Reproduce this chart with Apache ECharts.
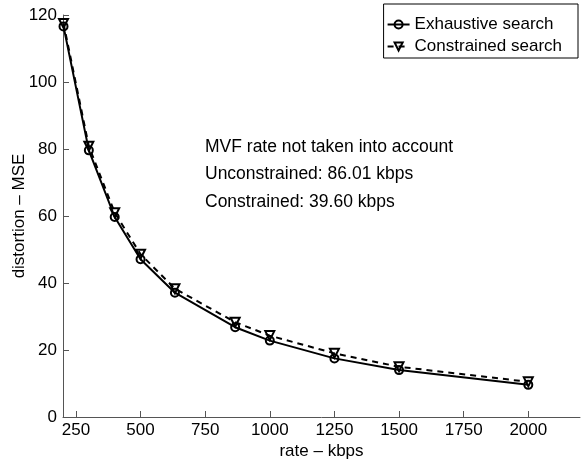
<!DOCTYPE html>
<html>
<head>
<meta charset="utf-8">
<script src="https://cdn.jsdelivr.net/npm/echarts@6/dist/echarts.min.js"></script>
<style>
html,body{margin:0;padding:0;background:#fff;}
#chart{width:586px;height:465px;}
</style>
</head>
<body>
<div id="chart"></div>
<script>
var rates = [202, 300, 400, 500, 633, 866, 1000, 1250, 1500, 2000];
var exhaustive = [116.6, 79.6, 59.7, 47.1, 37.1, 26.8, 22.8, 17.5, 14.0, 9.6];
var constrained = [117.5, 80.8, 61.0, 48.6, 38.3, 28.3, 24.3, 19.0, 15.0, 10.5];
var xTicks = [250, 500, 750, 1000, 1250, 1500, 1750, 2000];
var yTicks = [0, 20, 40, 60, 80, 100, 120];
var notes = ['MVF rate not taken into account', 'Unconstrained: 86.01 kbps', 'Constrained: 39.60 kbps'];

var FONT = 'Liberation Sans, Arial, sans-serif';
var FS = 17;

function pairs(xs, ys) { return xs.map(function (x, i) { return [x, ys[i]]; }); }

var chart = echarts.init(document.getElementById('chart'), null, {renderer: 'canvas'});
chart.setOption({
  animation: false,
  backgroundColor: '#fff',
  textStyle: {fontFamily: FONT},
  grid: {left: 63, right: 6, top: 15, bottom: 48, containLabel: false, outerBoundsMode: 'none'},
  xAxis: {
    type: 'value', min: 200, max: 2200,
    name: 'rate – kbps', nameLocation: 'middle', nameGap: 26, nameMoveOverlap: false,
    nameTextStyle: {fontFamily: FONT, fontSize: FS, color: '#000'},
    axisLine: {show: true, lineStyle: {color: '#555', width: 1}},
    axisTick: {show: true, inside: true, length: 6, customValues: xTicks, lineStyle: {color: '#555'}},
    axisLabel: {customValues: xTicks, fontFamily: FONT, fontSize: FS, color: '#000', margin: 5,
      formatter: function (v) { return String(v); }},
    splitLine: {show: false}
  },
  yAxis: {
    type: 'value', min: 0, max: 120,
    name: 'distortion – MSE', nameLocation: 'middle', nameGap: 35, nameMoveOverlap: false,
    nameTextStyle: {fontFamily: FONT, fontSize: FS, color: '#000'},
    axisLine: {show: true, lineStyle: {color: '#555', width: 1}},
    axisTick: {show: true, inside: true, length: 6, customValues: yTicks, lineStyle: {color: '#555'}},
    axisLabel: {customValues: yTicks, fontFamily: FONT, fontSize: FS, color: '#000', margin: 6,
      formatter: function (v) { return String(v); }},
    splitLine: {show: false}
  },
  legend: {
    right: 8, top: 4, orient: 'vertical',
    backgroundColor: '#fff', borderColor: '#000', borderWidth: 1,
    padding: [12, 16, 3, 3], itemGap: 5, itemWidth: 22, itemHeight: 10,
    textStyle: {fontFamily: FONT, fontSize: FS, color: '#000'},
    data: ['Exhaustive search', 'Constrained search']
  },
  graphic: notes.map(function (t, i) {
    return {type: 'text', left: 205, top: 138 + i * 27.5, z: 10,
      style: {text: t, font: '17.5px ' + FONT, fill: '#000'}};
  }),
  series: [
    {
      name: 'Exhaustive search', type: 'line', data: pairs(rates, exhaustive),
      symbol: 'circle', symbolSize: 8, showAllSymbol: true,
      lineStyle: {color: '#000', width: 2, type: 'solid'},
      itemStyle: {color: 'rgba(0,0,0,0)', borderColor: '#000', borderWidth: 2}
    },
    {
      name: 'Constrained search', type: 'line', data: pairs(rates, constrained),
      symbol: 'triangle', symbolRotate: 180, symbolSize: 9, showAllSymbol: true,
      lineStyle: {color: '#000', width: 2, type: [6, 5]},
      itemStyle: {color: 'rgba(0,0,0,0)', borderColor: '#000', borderWidth: 2}
    }
  ]
});
</script>
</body>
</html>
